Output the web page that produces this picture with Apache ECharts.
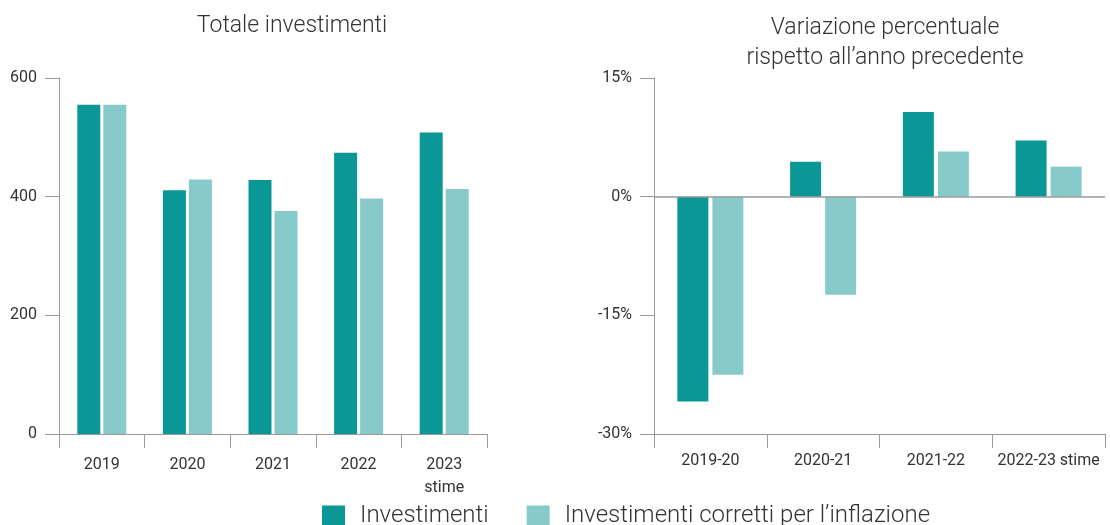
<!DOCTYPE html>
<html>
<head>
<meta charset="utf-8">
<script src="https://cdn.jsdelivr.net/npm/echarts@6/dist/echarts.min.js"></script>
<style>
  html, body { margin: 0; padding: 0; background: #fff; }
  #chart { width: 1110px; height: 525px; }
</style>
</head>
<body>
<div id="chart"></div>
<script>
  // Data
  const years = ['2019', '2020', '2021', '2022', '2023\nstime'];
  const investimenti = [555, 411, 428, 474, 508];
  const investimentiReali = [555, 429, 376, 397, 413];

  const periods = ['2019-20', '2020-21', '2021-22', '2022-23 stime'];
  const variazione = [-25.9, 4.4, 10.7, 7.1];
  const variazioneReale = [-22.5, -12.4, 5.7, 3.8];

  const COLORS = {
    dark: '#0a9796',
    light: '#86cbca',
    axis: '#9a9a9a',
    text: '#333333',
  };
  const FONT = 'Roboto, sans-serif';

  const axisLabel = { color: COLORS.text, fontFamily: FONT, fontSize: 16 };

  const chart = echarts.init(document.getElementById('chart'), null, { renderer: 'canvas' });

  const option = {
    backgroundColor: '#fff',
    animation: false,
    color: [COLORS.dark, COLORS.light],
    title: [
      {
        text: 'Totale investimenti',
        left: 292, top: 15, textAlign: 'center', padding: 0,
        textStyle: { fontFamily: FONT, fontWeight: 300, fontSize: 23, color: COLORS.text },
      },
      {
        text: 'Variazione percentuale\nrispetto all\u2019anno precedente',
        left: 885, top: 13, textAlign: 'center', padding: 0,
        textStyle: { fontFamily: FONT, fontWeight: 300, fontSize: 23, lineHeight: 30, color: COLORS.text },
      },
    ],
    legend: {
      left: 322, top: 504, padding: 0,
      itemWidth: 23, itemHeight: 21, itemGap: 38,
      icon: 'rect',
      textStyle: { fontFamily: FONT, fontWeight: 300, fontSize: 24, color: COLORS.text, padding: [0, 0, 0, 10] },
      data: ['Investimenti', 'Investimenti corretti per l\u2019inflazione'],
    },
    grid: [
      { left: 59, top: 78, width: 428, height: 356 },
      { left: 654, top: 78, width: 451, height: 356 },
    ],
    xAxis: [
      {
        type: 'category', gridIndex: 0, data: years,
        axisLine: { lineStyle: { color: COLORS.axis } },
        axisTick: { show: true, interval: 0, length: 14, lineStyle: { color: COLORS.axis } },
        axisLabel: { ...axisLabel, interval: 0, margin: 19, lineHeight: 23 },
      },
      {
        type: 'category', gridIndex: 1, data: periods,
        axisLine: { onZero: false, lineStyle: { color: COLORS.axis } },
        axisTick: { show: true, interval: 0, length: 14, lineStyle: { color: COLORS.axis } },
        axisLabel: { ...axisLabel, interval: 0, margin: 19 },
      },
    ],
    yAxis: [
      {
        type: 'value', gridIndex: 0, min: 0, max: 600, interval: 200,
        axisLine: { show: true, lineStyle: { color: COLORS.axis } },
        axisTick: { show: true, length: 14, lineStyle: { color: COLORS.axis } },
        axisLabel: { ...axisLabel, margin: 22 },
        splitLine: { show: false },
      },
      {
        type: 'value', gridIndex: 1, min: -30, max: 15, interval: 15,
        axisLine: { show: true, lineStyle: { color: COLORS.axis } },
        axisTick: { show: true, length: 14, lineStyle: { color: COLORS.axis } },
        axisLabel: { ...axisLabel, margin: 22, formatter: v => v + '%' },
        splitLine: { show: false },
      },
    ],
    series: [
      {
        name: 'Investimenti', type: 'bar', xAxisIndex: 0, yAxisIndex: 0,
        data: investimenti, barWidth: 23, barGap: '13%',
        itemStyle: { color: COLORS.dark },
      },
      {
        name: 'Investimenti corretti per l\u2019inflazione', type: 'bar', xAxisIndex: 0, yAxisIndex: 0,
        data: investimentiReali, barWidth: 23, barGap: '13%',
        itemStyle: { color: COLORS.light },
      },
      {
        name: 'Investimenti', type: 'bar', xAxisIndex: 1, yAxisIndex: 1,
        data: variazione, barWidth: 31, barGap: '13%',
        itemStyle: { color: COLORS.dark },
        markLine: {
          silent: true, symbol: 'none', label: { show: false },
          lineStyle: { color: COLORS.axis, type: 'solid', width: 1.5 },
          data: [{ yAxis: 0 }],
        },
      },
      {
        name: 'Investimenti corretti per l\u2019inflazione', type: 'bar', xAxisIndex: 1, yAxisIndex: 1,
        data: variazioneReale, barWidth: 31, barGap: '13%',
        itemStyle: { color: COLORS.light },
      },
    ],
  };

  chart.setOption(option);
</script>
</body>
</html>
